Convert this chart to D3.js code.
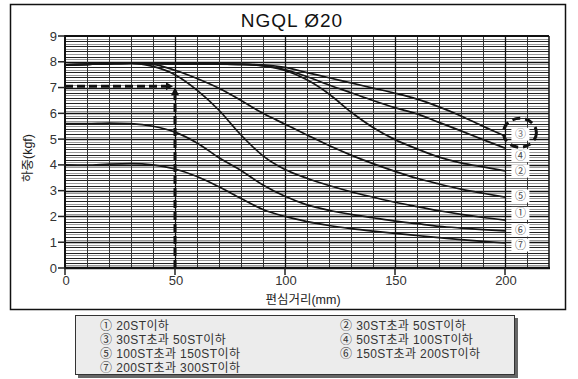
<!DOCTYPE html>
<html><head><meta charset="utf-8">
<script src="https://cdn.jsdelivr.net/npm/d3@7"></script>
<style>
body{margin:0;background:#fff}
svg{display:block}
text{font-family:"Liberation Sans","Noto Sans CJK KR",sans-serif}
</style>
</head><body>
<svg id="c" width="578" height="379"></svg>
<script>
// ---- data ----
const xPoints = [0,10,20,30,40,50,60,70,80,90,100,110,120,130,140,150,160,170,180,190,200];
const seriesNames = ['①','②','③','④','⑤','⑥','⑦'];
const s1 = [7.88,7.90,7.93,7.94,7.82,7.50,6.90,6.12,5.16,4.35,3.82,3.48,3.20,2.96,2.75,2.55,2.38,2.22,2.08,1.96,1.86];
const s2 = [7.88,7.90,7.93,7.95,7.94,7.92,7.92,7.91,7.90,7.84,7.66,7.30,6.75,6.05,5.45,4.98,4.62,4.30,4.08,3.92,3.77];
const s3 = [7.88,7.90,7.93,7.95,7.94,7.92,7.92,7.91,7.90,7.88,7.78,7.58,7.38,7.18,6.98,6.78,6.55,6.25,5.90,5.50,5.12];
const s4 = [7.88,7.90,7.93,7.95,7.94,7.92,7.92,7.91,7.90,7.85,7.70,7.42,7.10,6.80,6.50,6.22,5.98,5.65,5.32,4.98,4.65];
const s5 = [7.88,7.90,7.93,7.95,7.90,7.67,7.35,6.97,6.50,6.00,5.58,5.16,4.75,4.38,4.05,3.75,3.48,3.26,3.06,2.90,2.75];
const s6 = [5.60,5.60,5.62,5.60,5.50,5.27,4.85,4.28,3.78,3.22,2.78,2.45,2.24,2.08,1.95,1.82,1.72,1.62,1.55,1.49,1.44];
const s7 = [4.00,3.99,4.03,4.05,4.00,3.84,3.55,3.15,2.70,2.27,2.00,1.80,1.65,1.53,1.43,1.34,1.26,1.18,1.10,1.03,0.97];
const seriesValues = [s1,s2,s3,s4,s5,s6,s7];
const labelX = 207;
const labelY = [2.12,3.76,5.19,4.36,2.79,1.47,0.89];
const highlighted = '③';
const yTicks = [0,1,2,3,4,5,6,7,8,9];
const xTicks = [0,50,100,150,200];
const arrowX = 50, arrowY = 7.05;
const titleText = 'NGQL  Ø20';
const xTitle = '편심거리(mm)';
const yTitle = '하중(kgf)';
const legendItems = ['① 20ST이하','② 30ST초과 50ST이하','③ 30ST초과 50ST이하','④ 50ST초과 100ST이하',
  '⑤ 100ST초과 150ST이하','⑥ 150ST초과 200ST이하','⑦ 200ST초과 300ST이하'];

// ---- drawing ----
const svg = d3.select('#c');
const x = d3.scaleLinear().domain([0,220]).range([65,549]);
const y = d3.scaleLinear().domain([0,9]).range([268,36]);
const px = v => Math.round(v)+0.5;

// outer frame
svg.append('rect').attr('x',10.5).attr('y',4.5).attr('width',555).attr('height',305)
  .attr('fill','#fff').attr('stroke','#111').attr('stroke-width',1.5);

// title
svg.append('text').attr('x',292).attr('y',27).attr('text-anchor','middle')
  .attr('font-size',19).attr('letter-spacing',1).attr('fill','#111').text(titleText);

const plot = svg.append('g');
// horizontal grid every 0.1
const hLines = d3.range(1,90).filter(i=>i%10!==0);
plot.selectAll('line.h').data(hLines).join('line')
  .attr('x1',x(0)).attr('x2',x(220))
  .attr('y1',d=>px(y(d/10))).attr('y2',d=>px(y(d/10)))
  .attr('stroke',d=>d%2===0?'#222':'#999').attr('stroke-width',1);
// integer lines
plot.selectAll('line.hi').data(yTicks.filter(d=>d>0 && d<9)).join('line')
  .attr('x1',x(0)).attr('x2',x(220))
  .attr('y1',d=>px(y(d))).attr('y2',d=>px(y(d)))
  .attr('stroke','#111').attr('stroke-width',1.3);
// vertical grid every 10
plot.selectAll('line.v').data(d3.range(10,220,10)).join('line')
  .attr('x1',d=>px(x(d))).attr('x2',d=>px(x(d)))
  .attr('y1',y(0)).attr('y2',y(9))
  .attr('stroke',d=>d%50===0?'#111':'#333').attr('stroke-width',d=>d%50===0?1.3:1);

// frame of plot
plot.append('line').attr('x1',x(0)).attr('x2',x(220)).attr('y1',y(9)).attr('y2',y(9)).attr('stroke','#111').attr('stroke-width',2);
plot.append('line').attr('x1',x(220)).attr('x2',x(220)).attr('y1',y(9)).attr('y2',y(0)).attr('stroke','#111').attr('stroke-width',1.5);
plot.append('line').attr('x1',x(0)).attr('x2',x(0)).attr('y1',y(9)-1).attr('y2',y(0)).attr('stroke','#111').attr('stroke-width',2);
plot.append('line').attr('x1',x(0)-1).attr('x2',x(220)+1).attr('y1',y(0)).attr('y2',y(0)).attr('stroke','#111').attr('stroke-width',2.5);

// y ticks
svg.selectAll('line.yt').data(yTicks).join('line')
  .attr('x1',x(0)-7).attr('x2',x(0)).attr('y1',d=>y(d)).attr('y2',d=>y(d))
  .attr('stroke','#222').attr('stroke-width',1.5);
svg.selectAll('text.yl').data(yTicks).join('text')
  .attr('x',x(0)-8).attr('y',d=>y(d)+4.5).attr('text-anchor','end')
  .attr('font-size',13).attr('fill','#333').text(d=>d);
// x ticks
svg.selectAll('line.xt').data(xTicks).join('line')
  .attr('x1',d=>x(d)).attr('x2',d=>x(d)).attr('y1',y(0)).attr('y2',y(0)+7)
  .attr('stroke','#222').attr('stroke-width',1.5);
svg.selectAll('text.xl').data(xTicks).join('text')
  .attr('x',d=>x(d)+1).attr('y',y(0)+17).attr('text-anchor','middle')
  .attr('font-size',13).attr('fill','#333').text(d=>d);

// axis titles
svg.append('text').attr('x',303).attr('y',304).attr('text-anchor','middle')
  .attr('font-size',12.5).attr('fill','#222').text(xTitle);
svg.append('text').attr('transform','translate(32,158) rotate(-90)').attr('text-anchor','middle')
  .attr('font-size',12.5).attr('fill','#222').text(yTitle);

// dashed guide arrows
const ax = x(arrowX), ay = y(arrowY);
svg.append('line').attr('x1',x(0)).attr('x2',ax-7).attr('y1',ay).attr('y2',ay)
  .attr('stroke','#111').attr('stroke-width',3).attr('stroke-dasharray','8,4');
svg.append('path').attr('d',`M${ax-2},${ay} L${ax-9},${ay-4} L${ax-9},${ay+4} Z`).attr('fill','#111');
svg.append('line').attr('x1',ax).attr('x2',ax).attr('y1',y(0)).attr('y2',ay+9)
  .attr('stroke','#111').attr('stroke-width',3).attr('stroke-dasharray','8,4');
svg.append('path').attr('d',`M${ax},${ay+1} L${ax-4},${ay+9} L${ax+4},${ay+9} Z`).attr('fill','#111');

// curves
const line = d3.line().x((d,i)=>x(xPoints[i])).y(d=>y(d)).curve(d3.curveMonotoneX);
svg.selectAll('path.s').data(seriesValues).join('path')
  .attr('d',d=>line(d)).attr('fill','none').attr('stroke','#161616').attr('stroke-width',1.7);

// labels
const lab = svg.selectAll('g.lab').data(seriesNames).join('g');
lab.append('rect').attr('x',x(labelX)-9).attr('y',(d,i)=>y(labelY[i])-6.5).attr('width',18).attr('height',13).attr('fill','#fff');
lab.append('text').attr('x',x(labelX)).attr('y',(d,i)=>y(labelY[i])+4).attr('text-anchor','middle')
  .style('font-family','"Noto Sans CJK KR","DejaVu Sans",sans-serif')
  .attr('font-size',11).attr('fill',d=>d===highlighted?'#777':'#444').text(d=>d);
const hi = seriesNames.indexOf(highlighted);
svg.append('ellipse').attr('cx',x(labelX)-0.5).attr('cy',y(labelY[hi])-1.5).attr('rx',16.5).attr('ry',14.5)
  .attr('fill','none').attr('stroke','#111').attr('stroke-width',3).attr('stroke-dasharray','8,5');

// legend
svg.append('rect').attr('x',78).attr('y',318).attr('width',440).attr('height',60).attr('fill','#666');
svg.append('rect').attr('x',75.5).attr('y',315.5).attr('width',439).attr('height',59)
  .attr('fill','#ececec').attr('stroke','#333').attr('stroke-width',1);
svg.selectAll('text.lg').data(legendItems).join('text')
  .attr('x',(d,i)=>i%2===0?100:340).attr('y',(d,i)=>329.5+Math.floor(i/2)*14.3)
  .attr('font-size',12).attr('letter-spacing',0.4).attr('fill','#333').text(d=>d);
</script>
</body></html>
